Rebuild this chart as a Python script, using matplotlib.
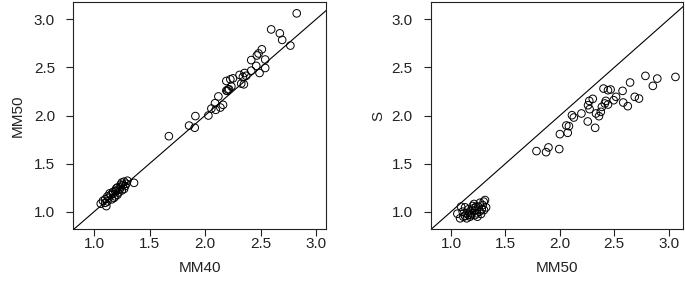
import matplotlib
matplotlib.use("Agg")
import matplotlib.pyplot as plt

plt.rcParams['font.family'] = ['Liberation Sans', 'DejaVu Sans']

# ---- data: (MM40, MM50, S) triples ----
# upper cluster
mm40_hi = [2.826, 2.596, 2.674, 2.695, 2.769, 2.512, 2.482, 2.467, 2.542, 2.416,
           2.461, 2.542, 2.416, 2.491, 2.356, 2.311, 2.371, 2.341, 2.251, 2.228,
           2.192, 2.326, 2.350, 2.237, 2.216, 2.207, 2.192, 2.200, 2.120, 2.090,
           2.162, 2.138, 2.057, 2.096, 2.030, 1.913, 1.856, 1.907, 1.674]
mm50_hi = [3.062, 2.895, 2.854, 2.786, 2.727, 2.688, 2.645, 2.624, 2.582, 2.576,
           2.516, 2.494, 2.466, 2.442, 2.442, 2.422, 2.413, 2.401, 2.386, 2.376,
           2.359, 2.332, 2.324, 2.302, 2.273, 2.270, 2.259, 2.256, 2.198, 2.128,
           2.111, 2.083, 2.072, 2.059, 2.000, 1.994, 1.895, 1.873, 1.785]
s_hi = [2.401, 2.384, 2.308, 2.412, 2.176, 2.194, 2.343, 2.097, 2.135, 2.256,
        2.194, 2.159, 2.270, 2.263, 2.114, 2.152, 2.125, 2.280, 2.090, 2.038,
        1.993, 2.021, 1.872, 2.173, 2.066, 2.152, 2.107, 1.938, 2.021, 1.979,
        2.003, 1.889, 1.820, 1.896, 1.806, 1.651, 1.668, 1.619, 1.630]

# lower cluster
mm40_lo = [1.10, 1.16, 1.11, 1.06, 1.08, 1.18, 1.12, 1.21, 1.14, 1.17,
           1.25, 1.19, 1.27, 1.21, 1.28, 1.24, 1.36, 1.27, 1.30, 1.20,
           1.15, 1.10, 1.24, 1.29, 1.22, 1.19, 1.23, 1.17, 1.26, 1.12,
           1.13, 1.20, 1.25]
mm50_lo = [1.092, 1.129, 1.058, 1.083, 1.113, 1.144, 1.159, 1.175, 1.190, 1.205,
           1.221, 1.211, 1.236, 1.251, 1.266, 1.282, 1.300, 1.312, 1.322, 1.242,
           1.175, 1.129, 1.260, 1.291, 1.199, 1.159, 1.230, 1.184, 1.276, 1.107,
           1.144, 1.221, 1.303]
s_lo = [1.052, 1.045, 0.979, 0.931, 0.948, 0.983, 0.965, 1.007, 0.983, 1.035,
        1.017, 1.080, 0.983, 1.052, 1.093, 1.024, 1.104, 1.121, 1.045, 0.948,
        0.948, 0.955, 1.000, 1.069, 1.059, 1.024, 1.052, 0.965, 0.976, 1.000,
        0.931, 0.965, 1.017]

MM40 = mm40_hi + mm40_lo
MM50 = mm50_hi + mm50_lo
S = s_hi + s_lo

ticks = [1.0, 1.5, 2.0, 2.5, 3.0]
tick_labels = ["1.0", "1.5", "2.0", "2.5", "3.0"]

W, H = 685, 304
fig = plt.figure(figsize=(W / 100, H / 100), dpi=100)

def make_ax(x0, x1, y_top, y_bot):
    return fig.add_axes([x0 / W, (H - y_bot) / H, (x1 - x0) / W, (y_bot - y_top) / H])

axL = make_ax(73, 326, 2, 229)
axR = make_ax(430.7, 683.3, 2, 229)

panels = [
    (axL, MM40, MM50, "MM40", "MM50", (0.81, 3.09), (0.82, 3.18), -0.217),
    (axR, MM50, S, "MM50", "S", (0.813, 3.134), (0.82, 3.18), -0.209),
]

for ax, xv, yv, xl, yl, xlim, ylim, ylx in panels:
    ax.scatter(xv, yv, s=30, facecolors='none', edgecolors='black', linewidths=0.7, zorder=3)
    ax.axline((1.0, 1.0), slope=1.0, color='black', lw=0.8, zorder=2)
    ax.set_xlim(*xlim)
    ax.set_ylim(*ylim)
    ax.set_xticks(ticks)
    ax.set_xticklabels(tick_labels)
    ax.set_yticks(ticks)
    ax.set_yticklabels(tick_labels)
    ax.tick_params(axis='both', direction='out', length=5, width=0.8,
                   labelsize=11, colors='#222222')
    ax.tick_params(axis='x', pad=1)
    ax.tick_params(axis='y', pad=8)
    for sp in ax.spines.values():
        sp.set_linewidth(0.8)
        sp.set_color('#222222')
    ax.set_xlabel(xl, fontsize=11, color='#222222', va='center')
    ax.set_ylabel(yl, fontsize=11, color='#222222', va='center', ha='center')
    ax.xaxis.set_label_coords(0.5, -0.172)
    ax.yaxis.set_label_coords(ylx, 0.5)

fig.savefig("out.png", dpi=100)
